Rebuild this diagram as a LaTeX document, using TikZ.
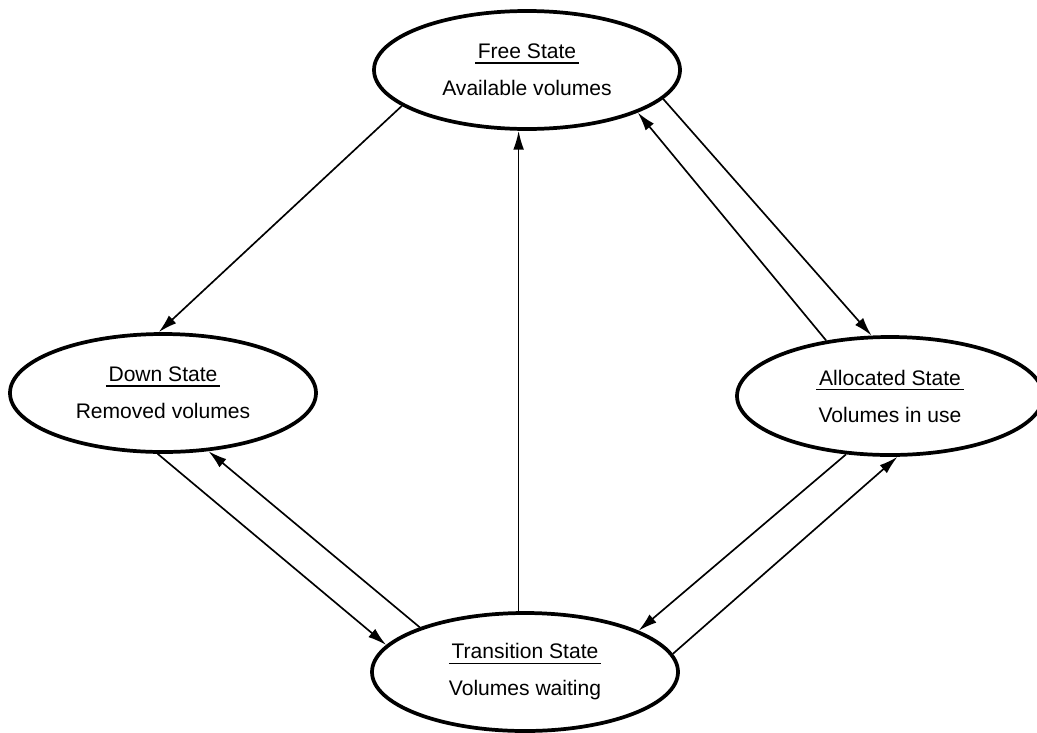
\documentclass[tikz,border=0pt]{standalone}
\usepackage{fontspec}
\setmainfont{Liberation Sans}
\usetikzlibrary{shapes.geometric,arrows.meta}
\newcommand{\statehead}[1]{\vtop{\hbox{\kern2pt#1\kern2pt}\kern2.6pt\hrule height1.3pt}}

\begin{document}
\begin{tikzpicture}[x=.75pt,y=-.75pt,
  state/.style={ellipse,draw,line width=2.8pt,minimum width=229.5pt,minimum height=88.5pt,inner sep=0pt,align=center,font=\fontsize{15.8}{27.75}\selectfont},
  flow/.style={line width=1.25pt,-{Latex[length=14pt,width=8pt]}}]
\useasboundingbox (0,0) rectangle (1037,732);
\node[state] (free) at (527,70) {\statehead{Free State}\\Available volumes};
\node[state] (down) at (163,393) {\statehead{Down State}\\Removed volumes};
\node[state] (alloc) at (890,396) {\statehead{Allocated State}\\Volumes in use};
\node[state] (trans) at (525,672) {\statehead{Transition State}\\Volumes waiting};
\draw[flow] (free.196) -- (down.94.7);
\draw[flow] (trans.96.7) -- (trans.96.7 |- free.south);
\draw[flow] (alloc.139.1) -- (free.339.7);
\draw[flow] (free.348.7) -- (alloc.107.6);
\draw[flow] (down.265.2) -- (trans.169.9);
\draw[flow] (trans.157.8) -- (down.308.9);
\draw[flow] (alloc.233.6) -- (trans.20.3);
\draw[flow] (trans.7.9) -- (alloc.277.5);
\end{tikzpicture}
\end{document}
